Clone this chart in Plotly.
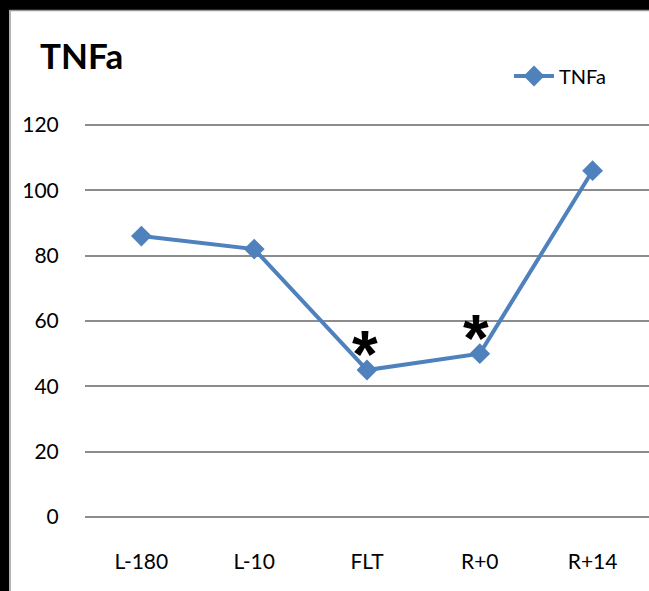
import plotly.graph_objects as go

categories = ["L-180", "L-10", "FLT", "R+0", "R+14"]
values = [86, 82, 45, 50, 106]
star_categories = ["FLT", "R+0"]
star_values = [45, 50]
y_ticks = [0, 20, 40, 60, 80, 100, 120]

W, H = 649, 591
ML, MR, MT, MB = 85, 0, 123, 72
pw, ph = W - ML - MR, H - MT - MB

def px_x(p):
    return (p - ML) / pw

def px_y(p):
    return (H - MB - p) / ph

blue = "#4F81BD"
font_fam = "Lato, Open Sans, Liberation Sans"

fig = go.Figure()
fig.add_trace(go.Scatter(
    x=categories, y=values, mode="lines+markers", name="TNFa",
    line=dict(color=blue, width=4),
    marker=dict(symbol="diamond", size=16, color=blue),
))

for c, v in zip(star_categories, star_values):
    fig.add_annotation(x=c, y=v, text="<b>*</b>", showarrow=False,
                       font=dict(size=66, color="black", family="Liberation Sans"),
                       yshift=16, xshift=-2 if c == "FLT" else -4)

shapes = [
    dict(type="rect", xref="paper", yref="paper", x0=px_x(0), x1=px_x(W), y0=px_y(10), y1=px_y(0),
         fillcolor="black", line_width=0, layer="above"),
    dict(type="rect", xref="paper", yref="paper", x0=px_x(0), x1=px_x(9), y0=px_y(H), y1=px_y(0),
         fillcolor="black", line_width=0, layer="above"),
    dict(type="line", xref="paper", yref="paper", x0=px_x(10), x1=px_x(W), y0=px_y(10.5), y1=px_y(10.5),
         line=dict(color="#9a9a9a", width=1.5), layer="above"),
    dict(type="line", xref="paper", yref="paper", x0=px_x(10), x1=px_x(10), y0=px_y(10), y1=px_y(H),
         line=dict(color="#9a9a9a", width=1.5), layer="above"),
]

fig.update_layout(
    width=W, height=H,
    margin=dict(l=ML, r=MR, t=MT, b=MB),
    paper_bgcolor="white", plot_bgcolor="white",
    shapes=shapes,
    showlegend=True,
    legend=dict(x=px_x(509), y=px_y(76), xanchor="left", yanchor="middle",
                font=dict(size=20, color="black", family=font_fam),
                bgcolor="rgba(0,0,0,0)", itemwidth=40),
    annotations=list(fig.layout.annotations) + [
        dict(text="<b>TNFa</b>", xref="paper", yref="paper", x=px_x(38), y=px_y(55),
             xanchor="left", yanchor="middle", showarrow=False,
             font=dict(size=35, color="black", family=font_fam)),
    ],
    xaxis=dict(type="category", range=[-0.5, 4.5], showgrid=False, zeroline=False,
               showline=False, ticks="outside", ticklen=24, tickcolor="rgba(0,0,0,0)",
               tickfont=dict(size=21, color="black", family=font_fam)),
    yaxis=dict(range=[-0.6, 120.6], tickvals=y_ticks, showgrid=True, gridcolor="#8c8c8c",
               gridwidth=1.5, zeroline=False, showline=False,
               ticks="outside", ticklen=21, tickcolor="rgba(0,0,0,0)",
               tickfont=dict(size=21, color="black", family=font_fam)),
)

fig.write_html("out.html", config={"displayModeBar": False},
               post_script="document.documentElement.style.overflow='hidden';document.body.style.margin='0';document.body.style.overflow='hidden';")
